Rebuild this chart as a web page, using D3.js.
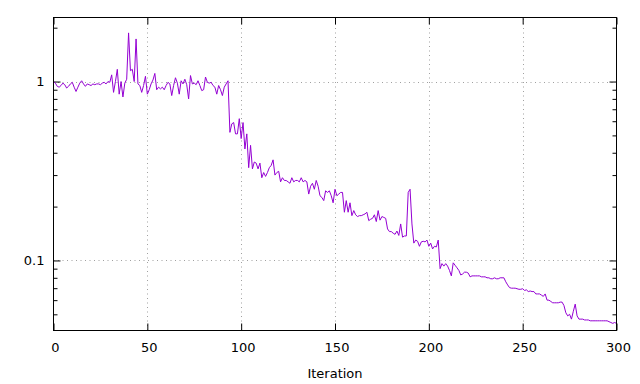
<!DOCTYPE html>
<html>
<head>
<meta charset="utf-8">
<script src="https://cdn.jsdelivr.net/npm/d3@7"></script>
<style>
  body { margin: 0; background: #fff; }
  svg { display: block; }
  .axis text { font-family: "DejaVu Sans", sans-serif; font-size: 13px; fill: #000; }
  .axis line { stroke: #000; }
</style>
</head>
<body>
<svg class="chart"></svg>
<script>
// loss per iteration (iteration = index)
var loss = [
  1.00, 0.98, 0.94, 0.93, 0.95, 0.98, 0.96, 0.92, 0.94, 0.97,
  0.99, 0.93, 0.88, 0.93, 0.98, 1.01, 0.97, 0.94, 0.97, 0.96,
  0.95, 0.97, 0.96, 0.97, 0.97, 0.96, 0.98, 0.99, 0.97, 1.00,
  0.99, 1.09, 0.87, 1.00, 1.17, 0.85, 1.00, 0.82, 0.98, 1.03,
  1.87, 1.15, 1.17, 1.00, 1.73, 0.97, 0.95, 0.87, 0.95, 1.07,
  0.85, 0.90, 0.97, 1.02, 1.11, 0.90, 0.93, 0.91, 0.93, 0.90,
  0.95, 0.99, 0.97, 0.835, 0.95, 1.05, 0.98, 0.85, 1.01, 0.97,
  1.03, 0.96, 0.80, 1.08, 0.97, 0.98, 0.96, 1.01, 0.95, 0.89,
  0.90, 1.06, 0.99, 0.98, 0.99, 0.95, 0.93, 0.85, 0.95, 0.90,
  0.835, 0.93, 0.97, 1.01, 0.52, 0.58, 0.59, 0.51, 0.51, 0.62,
  0.48, 0.59, 0.42, 0.51, 0.33, 0.44, 0.325, 0.355, 0.35, 0.325,
  0.35, 0.29, 0.31, 0.295, 0.31, 0.33, 0.34, 0.365, 0.30, 0.31,
  0.315, 0.275, 0.29, 0.28, 0.28, 0.275, 0.27, 0.29, 0.275, 0.28,
  0.28, 0.275, 0.29, 0.275, 0.28, 0.275, 0.235, 0.26, 0.27, 0.25,
  0.28, 0.26, 0.23, 0.225, 0.216, 0.245, 0.24, 0.245, 0.23, 0.21,
  0.25, 0.23, 0.235, 0.24, 0.24, 0.186, 0.216, 0.186, 0.21, 0.178,
  0.19, 0.18, 0.176, 0.178, 0.178, 0.18, 0.182, 0.186, 0.167, 0.17,
  0.172, 0.18, 0.165, 0.19, 0.168, 0.176, 0.174, 0.172, 0.15, 0.145,
  0.145, 0.142, 0.14, 0.146, 0.138, 0.16, 0.135, 0.137, 0.137, 0.24,
  0.25, 0.16, 0.125, 0.13, 0.128, 0.12, 0.127, 0.128, 0.127, 0.13,
  0.12, 0.125, 0.116, 0.12, 0.119, 0.13, 0.09, 0.096, 0.093, 0.096,
  0.093, 0.088, 0.082, 0.097, 0.094, 0.091, 0.088, 0.083, 0.084, 0.086,
  0.086, 0.085, 0.081, 0.082, 0.082, 0.082, 0.082, 0.082, 0.081, 0.081,
  0.081, 0.080, 0.080, 0.079, 0.079, 0.080, 0.079, 0.079, 0.080, 0.080,
  0.080, 0.076, 0.073, 0.0705, 0.070, 0.070, 0.070, 0.0695, 0.069, 0.069,
  0.0695, 0.068, 0.0685, 0.067, 0.0675, 0.067, 0.067, 0.065, 0.065, 0.065,
  0.064, 0.063, 0.065, 0.060, 0.060, 0.059, 0.058, 0.058, 0.058, 0.058,
  0.0585, 0.0585, 0.056, 0.051, 0.049, 0.050, 0.047, 0.052, 0.057, 0.049,
  0.047, 0.047, 0.047, 0.0465, 0.0465, 0.0465, 0.046, 0.046, 0.046, 0.046,
  0.046, 0.046, 0.046, 0.046, 0.046, 0.046, 0.0455, 0.045, 0.0445, 0.045,
  0.0445
];

var xTicks = [0, 50, 100, 150, 200, 250, 300];
var yMajorTicks = [0.1, 1];
var yMinorTicks = [0.05, 0.06, 0.07, 0.08, 0.09, 0.2, 0.3, 0.4, 0.5, 0.6, 0.7, 0.8, 0.9, 2];
var xDomain = [0, 300];
var yDomain = [0.0406, 2.28];

function renderChart() {
    var width = 640, height = 384;
    var margin = { top: 17.5, right: 23.5, bottom: 53.5, left: 53.5 };
    var x0 = margin.left, x1 = width - margin.right;
    var y0 = height - margin.bottom, y1 = margin.top;

    var chart = d3.select('.chart')
        .attr('width', width)
        .attr('height', height);

    var xScale = d3.scaleLinear().domain(xDomain).range([x0, x1]);
    var yScale = d3.scaleLog().domain(yDomain).range([y0, y1]);

    // grid
    var grid = chart.append('g').attr('class', 'grid')
        .attr('stroke', '#a0a0a0')
        .attr('stroke-dasharray', '1,3.5');
    grid.selectAll('line.gx')
        .data(xTicks.filter(function(d) { return d > xDomain[0] && d < xDomain[1]; }))
        .enter().append('line')
        .attr('class', 'gx')
        .attr('x1', function(d) { return Math.round(xScale(d)) + 0.5; })
        .attr('x2', function(d) { return Math.round(xScale(d)) + 0.5; })
        .attr('y1', y0).attr('y2', y1);
    grid.selectAll('line.gy')
        .data(yMajorTicks)
        .enter().append('line')
        .attr('class', 'gy')
        .attr('x1', x0).attr('x2', x1)
        .attr('y1', function(d) { return Math.round(yScale(d)) + 0.5; })
        .attr('y2', function(d) { return Math.round(yScale(d)) + 0.5; });

    // axes (ticks point inward, mirrored on top/right)
    var bottom = chart.append('g').attr('class', 'axis')
        .attr('transform', 'translate(0,' + y0 + ')')
        .call(d3.axisBottom(xScale).tickValues(xTicks).tickSize(-7).tickPadding(12));
    bottom.selectAll('text').attr('dx', '1.5');
    chart.append('g').attr('class', 'axis')
        .attr('transform', 'translate(0,' + y1 + ')')
        .call(d3.axisTop(xScale).tickValues(xTicks).tickSize(-7).tickFormat(''));

    chart.append('g').attr('class', 'axis')
        .attr('transform', 'translate(' + x0 + ',0)')
        .call(d3.axisLeft(yScale).tickValues(yMajorTicks).tickSize(-7).tickPadding(9)
            .tickFormat(function(d) { return String(d); }));
    chart.append('g').attr('class', 'axis')
        .attr('transform', 'translate(' + x0 + ',0)')
        .call(d3.axisLeft(yScale).tickValues(yMinorTicks).tickSize(-4).tickFormat(''));
    chart.append('g').attr('class', 'axis')
        .attr('transform', 'translate(' + x1 + ',0)')
        .call(d3.axisRight(yScale).tickValues(yMajorTicks).tickSize(-7).tickFormat(''));
    chart.append('g').attr('class', 'axis')
        .attr('transform', 'translate(' + x1 + ',0)')
        .call(d3.axisRight(yScale).tickValues(yMinorTicks).tickSize(-4).tickFormat(''));
    chart.selectAll('.axis .domain').remove();

    // data line
    var line = d3.line()
        .x(function(d, i) { return xScale(i); })
        .y(function(d) { return yScale(d); });
    chart.append('path')
        .datum(loss)
        .attr('fill', 'none')
        .attr('stroke', '#9400d3')
        .attr('stroke-width', 1)
        .attr('stroke-linejoin', 'round')
        .attr('d', line);

    // border
    chart.append('rect')
        .attr('x', x0).attr('y', y1)
        .attr('width', x1 - x0).attr('height', y0 - y1)
        .attr('fill', 'none')
        .attr('stroke', '#000')
        .attr('stroke-width', 1);

    // x label
    chart.append('text')
        .attr('class', 'axis')
        .attr('x', (x0 + x1) / 2)
        .attr('y', 378)
        .attr('text-anchor', 'middle')
        .style('font-family', '"DejaVu Sans", sans-serif')
        .style('font-size', '13px')
        .text('Iteration');
}

window.onload = renderChart;
</script>
</body>
</html>
